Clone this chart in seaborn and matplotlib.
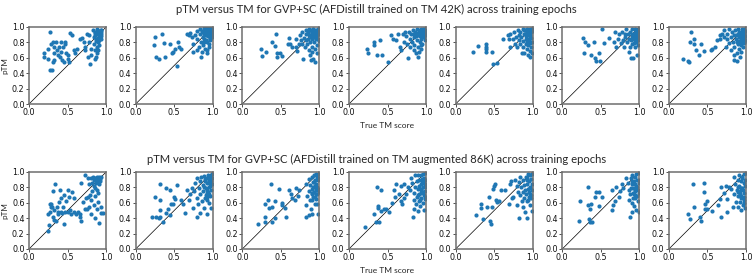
import numpy as np
import pandas as pd
import matplotlib
matplotlib.use("Agg")
import matplotlib.pyplot as plt
import seaborn as sns

# ---------------- data ----------------
# Row 1: AFDistill trained on TM 42K
r1e1_true = [0.27,0.19,0.19,0.25,0.25,0.27,0.30,0.29,0.31,0.32,0.33,0.32,0.31,0.35,0.36,0.38,0.39,0.40,0.41,0.42,0.43,0.44,0.45,0.47,0.47,0.48,0.50,0.50,0.52,0.53,0.56,0.58,0.60,0.62,0.66,0.69,0.71,0.72,0.73,0.75,0.76,0.78,0.78,0.79,0.81,0.81,0.83,0.84,0.84,0.85,0.86,0.87,0.88,0.88,0.88,0.89,0.90,0.91,0.91,0.92,0.93,0.94,0.94,0.91,0.89,0.87,0.85,0.91,0.93,0.90,0.86,0.88,0.92,0.90,0.87,0.93,0.89,0.85,0.91,0.94]
r1e1_ptm  = [0.94,0.66,0.61,0.72,0.59,0.44,0.44,0.78,0.81,0.74,0.66,0.57,0.55,0.81,0.70,0.63,0.74,0.61,0.81,0.68,0.57,0.74,0.55,0.81,0.78,0.66,0.63,0.59,0.55,0.92,0.90,0.70,0.66,0.72,0.84,0.86,0.81,0.74,0.70,0.91,0.61,0.81,0.89,0.52,0.72,0.63,0.96,0.87,0.78,0.70,0.94,0.85,0.74,0.66,0.97,0.91,0.80,0.89,0.95,0.87,0.93,0.84,0.91,0.76,0.70,0.61,0.59,0.83,0.96,0.94,0.90,0.93,0.90,0.86,0.82,0.88,0.95,0.92,0.92,0.96]

r1e2_true = [0.25,0.24,0.27,0.30,0.34,0.37,0.38,0.45,0.47,0.49,0.51,0.54,0.55,0.56,0.59,0.66,0.69,0.71,0.73,0.74,0.75,0.77,0.79,0.79,0.80,0.82,0.83,0.84,0.85,0.85,0.86,0.86,0.87,0.87,0.88,0.89,0.90,0.90,0.91,0.92,0.93,0.93,0.93,0.94,0.95,0.95,0.96,0.97,0.97,0.98,0.98,0.99,0.99,0.95,0.92,0.89,0.96,0.93,0.91,0.88,1.00,0.97,0.94,0.96,0.98,0.92,0.90,0.95,0.97,0.99,0.93,0.91,0.96,0.98,0.94,0.87,0.99]
r1e2_ptm  = [0.87,0.76,0.61,0.59,0.91,0.79,0.61,0.78,0.66,0.68,0.72,0.50,0.80,0.74,0.72,0.91,0.89,0.92,0.87,0.78,0.68,0.89,0.70,0.95,0.85,0.74,0.98,0.91,0.81,0.61,0.95,0.68,0.87,0.76,0.99,0.91,0.72,0.97,0.83,0.94,0.99,0.70,0.89,0.96,0.78,0.98,0.91,0.99,0.85,0.96,0.98,0.94,0.89,0.74,0.66,0.85,0.83,0.81,0.89,0.81,0.97,0.92,0.93,0.97,0.92,0.96,0.93,0.95,0.95,0.97,0.93,0.98,0.86,0.88,0.88,0.93,0.87]

r1e3_true = [0.24,0.25,0.31,0.39,0.42,0.44,0.45,0.45,0.49,0.51,0.59,0.61,0.62,0.64,0.69,0.70,0.71,0.73,0.75,0.76,0.77,0.78,0.79,0.80,0.81,0.82,0.82,0.83,0.84,0.85,0.86,0.87,0.87,0.88,0.88,0.89,0.90,0.90,0.91,0.91,0.92,0.92,0.93,0.94,0.94,0.94,0.95,0.95,0.96,0.97,0.97,0.97,0.98,0.99,0.99,0.99,0.98,0.88,0.85,0.94,0.92,0.96,0.93,0.90,0.98,0.95,0.91,0.97,0.89,0.99,0.93]
r1e3_ptm  = [0.71,0.62,0.68,0.81,0.75,0.91,0.66,0.61,0.66,0.62,0.78,0.86,0.78,0.74,0.85,0.74,0.69,0.78,0.89,0.83,0.78,0.94,0.59,0.86,0.74,0.83,0.96,0.91,0.78,0.85,0.70,0.98,0.89,0.63,0.81,0.57,0.94,0.74,0.85,0.68,0.97,0.59,0.80,0.90,0.55,0.72,0.96,0.84,0.88,0.66,0.76,0.94,0.98,0.91,0.82,0.99,0.85,0.96,0.94,0.94,0.98,0.92,0.87,0.91,0.94,0.87,0.92,0.90,0.87,0.95,0.95]

r1e4_true = [0.24,0.25,0.32,0.33,0.36,0.40,0.43,0.51,0.55,0.57,0.61,0.64,0.66,0.68,0.70,0.71,0.73,0.74,0.75,0.76,0.78,0.79,0.79,0.81,0.82,0.83,0.84,0.85,0.85,0.86,0.87,0.88,0.88,0.89,0.89,0.90,0.91,0.92,0.92,0.93,0.93,0.94,0.94,0.95,0.96,0.97,0.97,0.98,0.98,0.99,0.99,0.95,0.91,0.94,0.88,0.85,0.97,0.93,0.96,0.99,0.90,0.92,0.98,0.95,0.87,0.94]
r1e4_ptm  = [0.72,0.66,0.81,0.76,0.63,0.83,0.63,0.55,0.89,0.85,0.83,0.91,0.74,0.70,0.91,0.81,0.94,0.88,0.78,0.60,0.94,0.85,0.74,0.91,0.81,0.96,0.70,0.87,0.76,0.94,0.66,0.83,0.97,0.61,0.74,0.89,0.68,0.96,0.81,0.91,0.72,0.98,0.85,0.78,0.94,0.87,0.98,0.91,0.83,0.96,0.89,0.91,0.94,0.76,0.91,0.91,0.93,0.96,0.97,0.93,0.92,0.88,0.95,0.87,0.88,0.95]

r1e5_true = [0.23,0.29,0.39,0.39,0.39,0.39,0.47,0.49,0.54,0.61,0.68,0.69,0.70,0.71,0.75,0.76,0.77,0.78,0.79,0.81,0.82,0.82,0.83,0.84,0.85,0.86,0.87,0.87,0.88,0.89,0.89,0.90,0.91,0.91,0.92,0.93,0.93,0.94,0.94,0.95,0.95,0.96,0.97,0.97,0.97,0.98,0.98,0.99,0.99,0.99,0.94,0.89,0.96,0.92,0.97,0.93,0.99,0.95,0.91,0.96,0.98,0.92,0.94,0.97]
r1e5_ptm  = [0.67,0.75,0.78,0.74,0.71,0.68,0.67,0.52,0.53,0.85,0.89,0.84,0.74,0.91,0.85,0.94,0.78,0.87,0.74,0.96,0.83,0.89,0.78,0.94,0.87,0.66,0.98,0.74,0.82,0.91,0.66,0.96,0.78,0.85,0.72,0.98,0.89,0.63,0.76,0.94,0.83,0.69,0.97,0.88,0.61,0.74,0.93,0.81,0.98,0.66,0.96,0.96,0.89,0.81,0.92,0.93,0.95,0.90,0.88,0.96,0.86,0.94,0.85,0.79]

r1e6_true = [0.27,0.29,0.33,0.28,0.37,0.41,0.42,0.44,0.48,0.49,0.51,0.54,0.61,0.67,0.68,0.70,0.72,0.74,0.76,0.78,0.79,0.80,0.81,0.82,0.83,0.84,0.85,0.86,0.87,0.88,0.88,0.89,0.90,0.91,0.91,0.92,0.93,0.94,0.94,0.95,0.95,0.96,0.97,0.97,0.98,0.98,0.98,0.99,0.99,0.92,0.89,0.96,0.93,0.97,0.94,0.99,0.95,0.90,0.96,0.98,0.93]
r1e6_ptm  = [0.86,0.81,0.76,0.66,0.63,0.81,0.60,0.56,0.66,0.56,0.97,0.79,0.86,0.81,0.93,0.74,0.84,0.91,0.79,0.94,0.83,0.74,0.91,0.87,0.97,0.81,0.91,0.68,0.85,0.94,0.74,0.60,0.89,0.78,0.97,0.60,0.85,0.92,0.74,0.98,0.81,0.88,0.63,0.95,0.83,0.91,0.76,0.98,0.87,0.91,0.83,0.94,0.79,0.86,0.88,0.92,0.85,0.86,0.80,0.96,0.88]

r1e7_true = [0.18,0.25,0.26,0.29,0.28,0.32,0.33,0.35,0.39,0.42,0.46,0.55,0.56,0.60,0.63,0.66,0.66,0.69,0.71,0.72,0.74,0.75,0.76,0.78,0.78,0.80,0.81,0.82,0.83,0.84,0.84,0.85,0.85,0.86,0.87,0.88,0.88,0.89,0.89,0.90,0.91,0.91,0.92,0.93,0.93,0.94,0.94,0.95,0.96,0.96,0.97,0.97,0.98,0.98,0.99,1.00,0.94,0.88,0.92,0.96,0.90,0.98,0.95,0.87,0.93,0.99,0.91,0.97]
r1e7_ptm  = [0.58,0.56,0.54,0.94,0.81,0.84,0.78,0.70,0.63,0.78,0.69,0.70,0.71,0.74,0.83,0.89,0.85,0.91,0.87,0.96,0.74,0.84,0.91,0.79,0.97,0.87,0.70,0.94,0.81,0.63,0.89,0.57,0.74,0.96,0.85,0.66,0.56,0.91,0.78,0.98,0.72,0.87,0.61,0.94,0.80,0.68,0.89,0.97,0.83,0.74,0.92,0.98,0.87,0.79,0.95,0.83,0.84,0.81,0.90,0.93,0.82,0.91,0.86,0.89,0.76,0.88,0.93,0.81]

# Row 2: AFDistill trained on TM augmented 86K
r2e1_true = [0.25,0.26,0.24,0.27,0.28,0.27,0.29,0.30,0.31,0.31,0.32,0.33,0.34,0.35,0.36,0.37,0.38,0.39,0.40,0.41,0.42,0.43,0.44,0.45,0.46,0.47,0.48,0.50,0.50,0.52,0.53,0.54,0.56,0.58,0.59,0.61,0.63,0.66,0.66,0.67,0.67,0.70,0.72,0.73,0.74,0.75,0.76,0.77,0.78,0.78,0.79,0.80,0.81,0.81,0.82,0.82,0.83,0.84,0.84,0.85,0.86,0.86,0.86,0.87,0.88,0.88,0.88,0.89,0.90,0.91,0.91,0.91,0.93,0.94,0.96,0.92,0.94,0.90,0.84,0.87,0.89,0.92,0.85,0.90]
r2e1_ptm  = [0.23,0.31,0.45,0.48,0.55,0.59,0.58,0.54,0.42,0.75,0.50,0.38,0.85,0.36,0.55,0.46,0.48,0.61,0.77,0.48,0.66,0.47,0.55,0.70,0.32,0.48,0.62,0.76,0.48,0.68,0.50,0.45,0.74,0.48,0.66,0.46,0.48,0.46,0.42,0.37,0.86,0.61,0.52,0.96,0.66,0.52,0.92,0.68,0.84,0.55,0.70,0.92,0.45,0.63,0.86,0.75,0.94,0.57,0.89,0.40,0.79,0.92,0.69,0.86,0.52,0.94,0.77,0.61,0.90,0.93,0.34,0.84,0.47,0.55,0.47,0.88,0.94,0.73,0.82,0.90,0.88,0.91,0.90,0.87]

r2e2_true = [0.21,0.25,0.27,0.30,0.31,0.31,0.31,0.32,0.36,0.39,0.40,0.42,0.44,0.45,0.46,0.48,0.50,0.51,0.54,0.59,0.62,0.64,0.66,0.69,0.71,0.73,0.74,0.76,0.77,0.79,0.79,0.80,0.81,0.82,0.83,0.84,0.84,0.85,0.86,0.87,0.87,0.88,0.89,0.90,0.90,0.91,0.92,0.93,0.93,0.93,0.94,0.95,0.95,0.96,0.97,0.97,0.98,0.98,0.98,0.99,0.99,0.89,0.92,0.95,0.90,0.94,0.96,0.91,0.97,0.93,0.99,0.95,0.92,0.98,0.96]
r2e2_ptm  = [0.42,0.68,0.42,0.40,0.84,0.50,0.42,0.63,0.35,0.79,0.47,0.52,0.44,0.77,0.58,0.58,0.68,0.65,0.83,0.63,0.58,0.47,0.77,0.64,0.71,0.79,0.53,0.75,0.86,0.66,0.92,0.42,0.58,0.79,0.88,0.47,0.71,0.94,0.62,0.83,0.75,0.95,0.53,0.88,0.66,0.79,0.92,0.73,0.45,0.86,0.96,0.60,0.81,0.90,0.69,0.95,0.53,0.77,0.88,0.98,0.92,0.81,0.77,0.88,0.91,0.74,0.93,0.70,0.82,0.67,0.85,0.72,0.64,0.93,0.86]

r2e3_true = [0.21,0.29,0.30,0.29,0.33,0.35,0.37,0.38,0.39,0.42,0.43,0.48,0.51,0.52,0.55,0.57,0.61,0.63,0.64,0.68,0.70,0.72,0.73,0.82,0.82,0.83,0.84,0.86,0.87,0.87,0.88,0.88,0.89,0.90,0.90,0.91,0.91,0.92,0.92,0.93,0.93,0.94,0.94,0.94,0.95,0.95,0.96,0.96,0.97,0.97,0.97,0.98,0.98,0.99,0.99,0.94,0.90,0.97,0.92,0.95,0.98,0.93,0.96,0.91,0.99]
r2e3_ptm  = [0.33,0.41,0.35,0.59,0.64,0.53,0.84,0.35,0.55,0.40,0.62,0.78,0.60,0.57,0.53,0.41,0.76,0.72,0.66,0.64,0.79,0.69,0.77,0.57,0.41,0.85,0.69,0.44,0.91,0.75,0.63,0.83,0.52,0.93,0.71,0.78,0.46,0.87,0.68,0.96,0.74,0.59,0.82,0.90,0.65,0.76,0.98,0.85,0.71,0.94,0.81,0.45,0.89,0.74,0.97,0.68,0.63,0.59,0.80,0.72,0.78,0.87,0.79,0.73,0.92]

r2e4_true = [0.21,0.32,0.35,0.37,0.38,0.38,0.39,0.41,0.42,0.45,0.48,0.52,0.56,0.58,0.60,0.61,0.65,0.67,0.68,0.69,0.71,0.72,0.74,0.76,0.79,0.81,0.82,0.83,0.84,0.85,0.85,0.86,0.86,0.87,0.88,0.88,0.89,0.89,0.90,0.91,0.91,0.91,0.92,0.93,0.93,0.94,0.94,0.95,0.96,0.96,0.96,0.97,0.97,0.97,0.98,0.98,0.99,0.99,0.99,0.94,0.91,0.93,0.96,0.98,0.90,0.95,0.97,0.92,0.99]
r2e4_ptm  = [0.28,0.46,0.35,0.80,0.53,0.56,0.35,0.49,0.77,0.52,0.52,0.48,0.60,0.76,0.68,0.84,0.71,0.82,0.62,0.58,0.84,0.66,0.71,0.81,0.76,0.92,0.86,0.41,0.73,0.64,0.52,0.96,0.80,0.58,0.88,0.68,0.49,0.96,0.78,0.62,0.90,0.72,0.56,0.84,0.96,0.66,0.76,0.88,0.60,0.97,0.81,0.70,0.92,0.51,0.84,0.75,0.99,0.65,0.89,0.73,0.82,0.78,0.74,0.68,0.70,0.91,0.86,0.63,0.80]

r2e5_true = [0.26,0.33,0.33,0.35,0.41,0.43,0.44,0.46,0.47,0.48,0.50,0.51,0.52,0.54,0.56,0.59,0.64,0.69,0.71,0.72,0.73,0.75,0.77,0.79,0.79,0.81,0.82,0.82,0.84,0.84,0.85,0.86,0.87,0.88,0.88,0.89,0.89,0.90,0.91,0.91,0.92,0.92,0.93,0.94,0.94,0.95,0.95,0.96,0.97,0.97,0.97,0.98,0.98,0.99,0.99,0.99,0.95,0.90,0.93,0.96,0.98,0.92,0.99,0.94]
r2e5_ptm  = [0.44,0.59,0.53,0.39,0.54,0.68,0.36,0.33,0.54,0.78,0.82,0.85,0.64,0.61,0.62,0.77,0.77,0.59,0.85,0.88,0.66,0.68,0.90,0.57,0.82,0.74,0.40,0.87,0.94,0.70,0.81,0.62,0.89,0.54,0.74,0.83,0.66,0.48,0.94,0.71,0.40,0.85,0.62,0.78,0.97,0.68,0.88,0.57,0.81,0.72,0.96,0.91,0.66,0.84,0.49,0.98,0.74,0.76,0.90,0.79,0.70,0.92,0.77,0.64]

r2e6_true = [0.22,0.23,0.33,0.34,0.35,0.36,0.38,0.37,0.36,0.44,0.43,0.48,0.51,0.48,0.64,0.66,0.68,0.64,0.70,0.74,0.75,0.78,0.79,0.83,0.85,0.86,0.87,0.88,0.88,0.89,0.90,0.90,0.91,0.91,0.92,0.92,0.93,0.93,0.94,0.94,0.95,0.95,0.96,0.96,0.97,0.97,0.98,0.98,0.99,0.99,0.99,1.00,0.93,0.89,0.96,0.91,0.97,0.94,0.99,0.92,0.95]
r2e6_ptm  = [0.37,0.62,0.57,0.80,0.39,0.35,0.35,0.58,0.52,0.74,0.67,0.74,0.67,0.56,0.51,0.57,0.62,0.77,0.80,0.67,0.75,0.84,0.79,0.92,0.86,0.64,0.77,0.42,0.71,0.92,0.48,0.84,0.60,0.96,0.73,0.79,0.56,0.88,0.66,0.94,0.75,0.84,0.51,0.97,0.69,0.90,0.77,0.62,0.86,0.99,0.73,0.48,0.71,0.79,0.82,0.88,0.80,0.70,0.90,0.66,0.78]

r2e7_true = [0.25,0.27,0.31,0.32,0.40,0.42,0.45,0.45,0.47,0.47,0.50,0.50,0.56,0.64,0.66,0.68,0.68,0.71,0.74,0.75,0.76,0.78,0.81,0.83,0.84,0.85,0.86,0.87,0.88,0.89,0.90,0.90,0.91,0.91,0.92,0.92,0.93,0.94,0.94,0.95,0.95,0.96,0.97,0.97,0.97,0.98,0.99,0.99,1.00,0.99,0.94,0.89,0.96,0.92,0.98,0.93,0.97,0.90,0.95]
r2e7_ptm  = [0.46,0.39,0.84,0.54,0.42,0.37,0.86,0.74,0.59,0.52,0.52,0.62,0.49,0.57,0.65,0.80,0.41,0.73,0.82,0.48,0.65,0.80,0.78,0.55,0.94,0.72,0.84,0.61,0.77,0.90,0.55,0.69,0.82,0.96,0.61,0.75,0.88,0.51,0.69,0.93,0.79,0.57,0.86,0.97,0.73,0.64,0.90,0.82,0.99,0.53,0.79,0.74,0.76,0.71,0.68,0.66,0.60,0.80,0.92]

row_titles = [
    "pTM versus TM for GVP+SC (AFDistill trained on TM 42K) across training epochs",
    "pTM versus TM for GVP+SC (AFDistill trained on TM augmented 86K) across training epochs",
]
x_label = "True TM score"
y_label = "pTM"
x_ticks = [0.0, 0.5, 1.0]
y_ticks = [0.0, 0.2, 0.4, 0.6, 0.8, 1.0]

rows = [
    [(r1e1_true, r1e1_ptm), (r1e2_true, r1e2_ptm), (r1e3_true, r1e3_ptm), (r1e4_true, r1e4_ptm),
     (r1e5_true, r1e5_ptm), (r1e6_true, r1e6_ptm), (r1e7_true, r1e7_ptm)],
    [(r2e1_true, r2e1_ptm), (r2e2_true, r2e2_ptm), (r2e3_true, r2e3_ptm), (r2e4_true, r2e4_ptm),
     (r2e5_true, r2e5_ptm), (r2e6_true, r2e6_ptm), (r2e7_true, r2e7_ptm)],
]

# ---------------- plotting ----------------
sns.set_style("ticks")
plt.rcParams["font.family"] = ["DejaVu Sans"]

W, H = 754, 273
fig, axes = plt.subplots(2, 7, figsize=(W / 100, H / 100), dpi=100)
fig.subplots_adjust(left=29 / W, right=746 / W, top=1 - 27 / H, bottom=1 - 249 / H,
                    wspace=0.383, hspace=0.883)

title_font = ["Lato", "DejaVu Sans"]
label_font = ["Lato", "DejaVu Sans"]

for r, row in enumerate(rows):
    for c, (xs, ys) in enumerate(row):
        ax = axes[r, c]
        df = pd.DataFrame({"true": xs, "ptm": ys})
        ax.plot([0, 1], [0, 1], color="black", lw=0.5, zorder=1)
        sns.scatterplot(data=df, x="true", y="ptm", ax=ax, s=9, color="#1f77b4",
                        linewidth=0, zorder=2, legend=False)
        ax.set_xlim(0, 1)
        ax.set_ylim(0, 1)
        ax.set_xticks(x_ticks)
        ax.set_yticks(y_ticks)
        ax.set_xticklabels([f"{t:.1f}" for t in x_ticks])
        ax.set_yticklabels([f"{t:.1f}" for t in y_ticks])
        ax.tick_params(labelsize=5.8, length=2, width=0.6, pad=1.2, color="#333333",
                       labelcolor="#111111")
        for sp in ax.spines.values():
            sp.set_visible(True)
            sp.set_color("#6e6e6e")
            sp.set_linewidth(1.1)
        ax.set_xlabel("")
        ax.set_ylabel("")
        if c == 0:
            ax.set_ylabel(y_label, fontsize=5.8, family=label_font, labelpad=2.5)
        if c == 3:
            ax.set_xlabel(x_label, fontsize=6.0, family=label_font, labelpad=3)

# row titles, sized to the reference widths
targets = [(402, 9.5), (463, 159)]
fig.canvas.draw()
renderer = fig.canvas.get_renderer()
for (title, (target_w, yc)) in zip(row_titles, targets):
    t = fig.text(0.499, 1 - yc / H, title, ha="center", va="center",
                 fontsize=9, family=title_font)
    w = t.get_window_extent(renderer).width
    t.set_fontsize(9 * target_w / w)

fig.savefig("out.png", dpi=100)
